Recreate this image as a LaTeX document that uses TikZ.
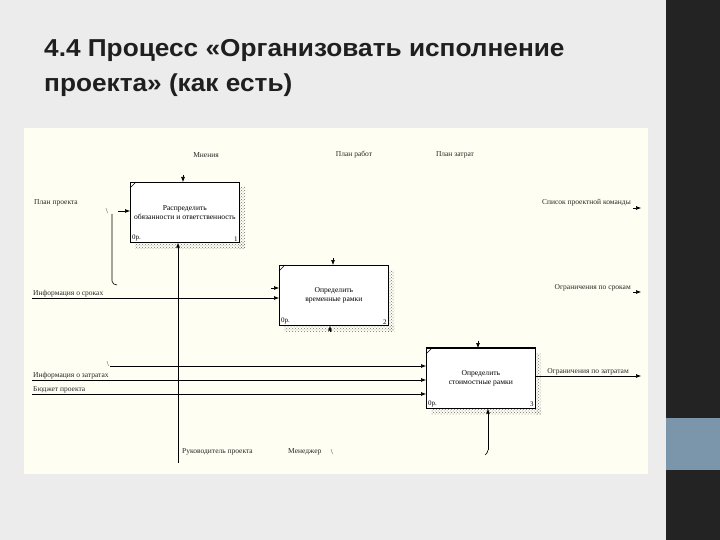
\documentclass[tikz,border=0pt]{standalone}
\usepackage{fontspec}
\setmainfont{Liberation Serif}
\newfontfamily\titlefont[FakeStretch=1.07]{Liberation Sans}
\usetikzlibrary{arrows.meta,patterns}
\definecolor{slidebg}{HTML}{ECECEC}
\definecolor{cream}{HTML}{FFFEF3}
\definecolor{darkstrip}{HTML}{232323}
\definecolor{bluestrip}{HTML}{7B96AA}
\tikzset{
  fbox/.style={draw=black, line width=0.7pt, fill=white, minimum width=109pt, minimum height=60pt, inner sep=0pt, anchor=north west, align=center, font=\fontsize{7.6}{8.6}\selectfont},
  lbl/.style={font=\fontsize{7.5}{8}\selectfont, inner sep=0pt, text=black!85},
  small/.style={font=\fontsize{7}{8}\selectfont, inner sep=0pt},
  arr/.style={line width=0.6pt, -{Latex[length=5pt,width=4pt]}},
  ln/.style={line width=0.6pt},
  tip/.style={line width=0.6pt, -{Latex[length=5pt,width=4pt]}},
  shadow/.style={pattern=crosshatch dots, pattern color=black!55, draw=none},
  ttl/.style={anchor=base west, inner sep=0pt, font=\titlefont\bfseries\fontsize{24.5}{28}\selectfont, text=black!88}
}
\begin{document}
\begin{tikzpicture}[x=1pt,y=-1pt]
\useasboundingbox (0,0) rectangle (720,540);
\fill[slidebg] (0,0) rectangle (720,540);
\fill[darkstrip] (666,0) rectangle (720,540);
\fill[bluestrip] (666,418) rectangle (720,470);
% title
\node[ttl] (t1) at (44,57) {4.4 Процесс «Организовать исполнение};
\node[ttl] (t2) at (44,92) {проекта» (как есть)};
% diagram area
\fill[cream] (24,128) rectangle (648,474);
% shadows
\fill[shadow] (239,187) rectangle (245,248);
\fill[shadow] (135,242) rectangle (245,248);
\fill[shadow] (388,270) rectangle (394,331);
\fill[shadow] (284,325) rectangle (394,331);
\fill[shadow] (535,353) rectangle (541,414);
\fill[shadow] (431,408) rectangle (541,414);
% boxes
\node[fbox] (b1) at (130,182) {Распределить\\обязанности и ответственность};
\node[fbox] (b2) at (279,265) {Определить\\временные рамки};
\node[fbox] (b3) at (426,348) {Определить\\стоимостные рамки};
\draw[line width=1.6pt] (b3.north west) -- (b3.north east);
\foreach \b/\n in {b1/1,b2/2,b3/3}{
  \draw[line width=0.5pt] ([yshift=-6pt]\b.north west) -- ([xshift=6pt]\b.north west);
  \node[small, anchor=south west] at ([xshift=2pt,yshift=1.5pt]\b.south west) {0р.};
  \node[small, anchor=south east] at ([xshift=-2pt,yshift=1.5pt]\b.south east) {\n};
}
% labels
\node[lbl] (mn) at (206,155) {Мнения};
\node[lbl] (pr) at (354,155) {План работ};
\node[lbl] (pz) at (455,155) {План затрат};
\node[lbl, anchor=west] (pp) at (34,203) {План проекта};
\node[lbl, anchor=east] (sk) at (631,203) {Список проектной команды};
\node[lbl, anchor=south west] (is) at (33,297) {Информация о сроках};
\node[lbl, anchor=east] (os) at (631,288) {Ограничения по срокам};
\node[lbl, anchor=south west] (iz) at (33,379) {Информация о затратах};
\node[lbl, anchor=south west] (bp) at (33,393) {Бюджет проекта};
\node[lbl, anchor=east] (oz) at (629,372) {Ограничения по затратам};
\node[lbl, anchor=west] (rp) at (182,452) {Руководитель проекта};
\node[lbl, anchor=west] (me) at (288,452) {Менеджер};
\node[lbl] (tk1) at (107,211) {\textbackslash};
\node[lbl] (tk2) at (108,364) {\textbackslash};
\node[lbl] (tk3) at (332,452) {\textbackslash};
% coordinates
\coordinate (c1) at (112,214);
\coordinate (c1b) at (112,281);
\coordinate (c1e) at (117,285);
\coordinate (lin1) at (118,211);
\coordinate (lin2) at (32,298);
\coordinate (b2in) at (271,288);
\coordinate (lin3) at (110,366);
\coordinate (lin4) at (32,380);
\coordinate (lin5) at (32,394);
\coordinate (rpb) at (178,463);
\coordinate (o1) at (641,208);
\coordinate (o2) at (641,292);
\coordinate (o3) at (641,376);
\coordinate (m3) at (488,450);
\coordinate (x1) at (183,175);
\coordinate (x2) at (333,258);
\coordinate (x3) at (478,341);
\coordinate (x4) at (330,332);
% arrows
\draw[ln] (c1) -- (c1b) to[out=-90,in=180] (c1e);
\draw[tip] (lin1) -- (lin1 -| b1.west);
\draw[arr] (lin2) -- (lin2 -| b2.west);
\draw[tip] (b2in) -- (b2in -| b2.west);
\draw[arr] (lin3) -- (lin3 -| b3.west);
\draw[arr] (lin4) -- (lin4 -| b3.west);
\draw[arr] (lin5) -- (lin5 -| b3.west);
\draw[arr] (rpb) -- (rpb |- b1.south);
\draw[tip] (x1) -- (x1 |- b1.north);
\draw[tip] (x2) -- (x2 |- b2.north);
\draw[tip] (x3) -- (x3 |- b3.north);
\draw[tip] (x4) -- (x4 |- b2.south);
\draw[arr] (m3) -- (m3 |- b3.south);
\draw[ln] (m3) to[out=-90,in=45] (485,455);
\draw[arr] (b3.east |- o3) -- (o3);
\draw[tip] ([xshift=-8pt]o1) -- (o1);
\draw[tip] ([xshift=-8pt]o2) -- (o2);
\end{tikzpicture}
\end{document}
